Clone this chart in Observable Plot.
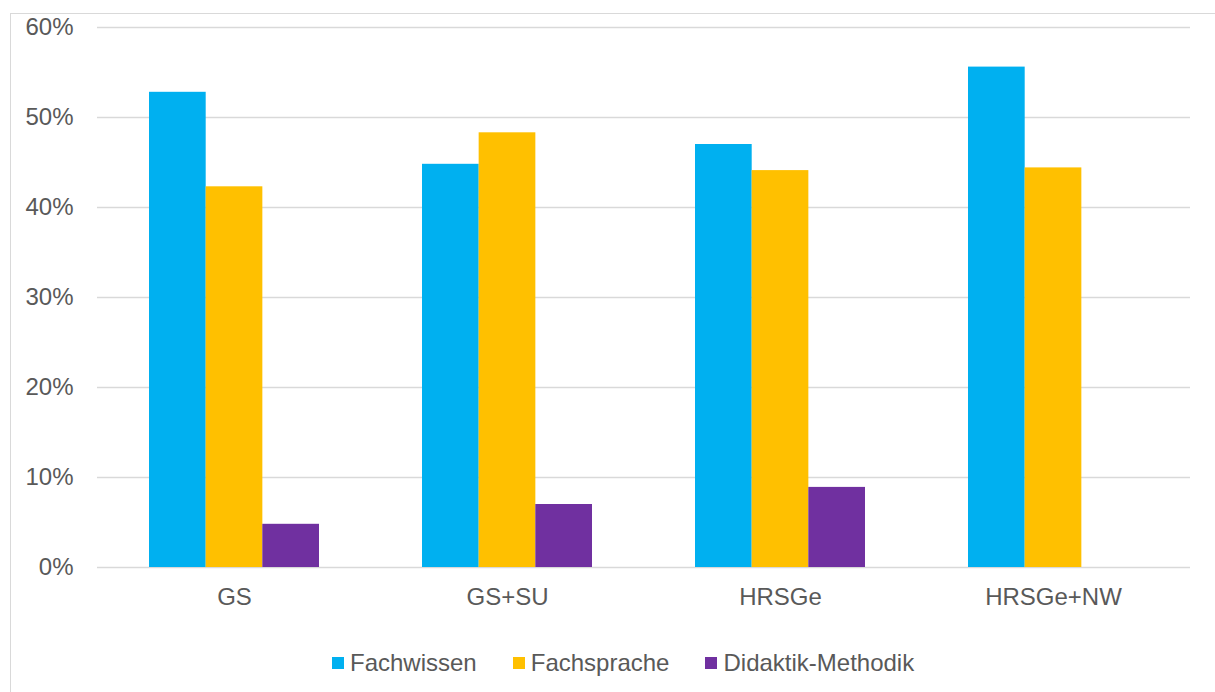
<!DOCTYPE html>
<html>
<head>
<meta charset="utf-8">
<script src="https://cdn.jsdelivr.net/npm/d3@7"></script>
<script src="https://cdn.jsdelivr.net/npm/@observablehq/plot@0.6"></script>
<style>
  html, body { margin: 0; padding: 0; background: #fff; }
  #wrap { position: relative; width: 1215px; height: 692px; overflow: hidden; font-family: "Liberation Sans", Arial, sans-serif; }
  #frame { position: absolute; left: 10px; top: 13px; width: 1300px; height: 800px; border-top: 1.5px solid #d9d9d9; border-left: 1.5px solid #d9d9d9; }
  #chart { position: absolute; left: 0; top: 0; }
  #legend { position: absolute; left: 332px; top: 651px; display: flex; align-items: center; font-size: 24px; line-height: 24px; color: #595959; }
  .item { display: flex; align-items: center; margin-right: 36px; }
  .sw { width: 12px; height: 12px; margin-right: 6px; }
</style>
</head>
<body>
<div id="wrap">
  <div id="frame"></div>
  <div id="chart"></div>
  <div id="legend"></div>
</div>
<script>
const categories = ["GS", "GS+SU", "HRSGe", "HRSGe+NW"];
const seriesNames = ["Fachwissen", "Fachsprache", "Didaktik-Methodik"];
const fachwissen = [52.8, 44.8, 47.0, 55.6];
const fachsprache = [42.3, 48.3, 44.1, 44.4];
const didaktik = [4.8, 7.0, 8.9, 0];
const colors = ["#00B0F0", "#FFC000", "#7030A0"];
const yTicks = [0, 10, 20, 30, 40, 50, 60];

const seriesValues = [fachwissen, fachsprache, didaktik];
const rows = categories.flatMap((c, i) =>
  seriesNames.map((s, j) => ({category: c, series: s, value: seriesValues[j][i]}))
);

const width = 1215, height = 620;
const marginLeft = 97, marginRight = 25, marginTop = 27, marginBottom = 53;
const paddingInner = 0.378, paddingOuter = 0.189;
const plotW = width - marginLeft - marginRight;
const step = plotW / (categories.length - paddingInner + 2 * paddingOuter);
const bw = step * (1 - paddingInner);
const barW = bw / seriesNames.length;

const barMarks = seriesNames.map((s, j) =>
  Plot.barY(rows.filter(d => d.series === s), {
    x: "category",
    y: "value",
    fill: colors[j],
    insetLeft: j * barW,
    insetRight: (seriesNames.length - 1 - j) * barW
  })
);

const chart = Plot.plot({
  width, height, marginLeft, marginRight, marginTop, marginBottom,
  style: {fontFamily: "'Liberation Sans', Arial, sans-serif", fontSize: "24px", color: "#595959", background: "transparent", overflow: "visible"},
  x: {domain: categories, paddingInner, paddingOuter, label: null, tickSize: 0, tickPadding: 20},
  y: {domain: [0, 60], ticks: 6, tickFormat: d => d + "%", label: null, tickSize: 0, tickPadding: 24},
  marks: [
    Plot.ruleY(yTicks, {stroke: "#d9d9d9", strokeWidth: 1.5}),
    ...barMarks
  ]
});
document.getElementById("chart").appendChild(chart);

const legend = document.getElementById("legend");
seriesNames.forEach((s, j) => {
  const item = document.createElement("div");
  item.className = "item";
  const sw = document.createElement("span");
  sw.className = "sw";
  sw.style.background = colors[j];
  const t = document.createElement("span");
  t.textContent = s;
  item.appendChild(sw);
  item.appendChild(t);
  legend.appendChild(item);
});
</script>
</body>
</html>
